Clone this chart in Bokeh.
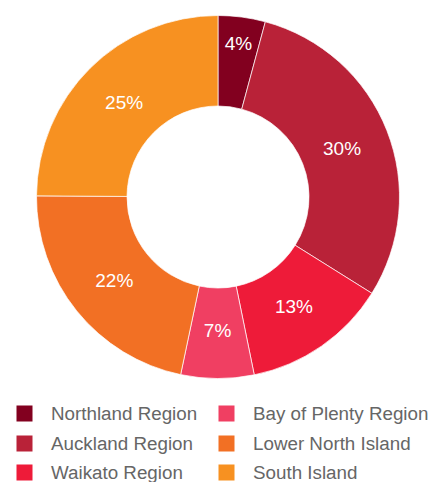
import math
from bokeh.plotting import figure
from bokeh.models import Range1d, ColumnDataSource
from bokeh.embed import file_html
from bokeh.resources import INLINE
from bokeh.core.properties import value

# ---- data ----
regions = ["Northland Region", "Auckland Region", "Waikato Region",
           "Bay of Plenty Region", "Lower North Island", "South Island"]
shares = [4.2, 29.7, 12.9, 6.5, 21.8, 24.9]
colors = ["#82001F", "#B92238", "#EE1B39", "#F03F62", "#F27024", "#F79121"]

# ---- layout (page pixel coordinates) ----
W, H = 429, 482
cx, cy = 217.5, H - 196.5
R_out, R_in = 181.5, 91
FONT = "Liberation Sans"

total = sum(shares)
starts, ends, mids = [], [], []
cum = 0.0
for s in shares:
    a0 = math.pi / 2 - cum / total * 2 * math.pi
    cum += s
    a1 = math.pi / 2 - cum / total * 2 * math.pi
    starts.append(a0)
    ends.append(a1)
    mids.append((a0 + a1) / 2)

labels = [f"{int(s / total * 100 + 0.5)}%" for s in shares]
r_mid = (R_out + R_in) / 2 - 3
lab_r = [r_mid + (22 if s / total < 0.05 else 0) for s in shares]
lx = [cx + r * math.cos(a) for r, a in zip(lab_r, mids)]
ly = [cy + r * math.sin(a) for r, a in zip(lab_r, mids)]

src = ColumnDataSource(dict(start=starts, end=ends, color=colors,
                            lx=lx, ly=ly, label=labels))

p = figure(width=W, height=H, x_range=Range1d(0, W), y_range=Range1d(0, H),
           output_backend="svg", toolbar_location=None, min_border=0,
           x_axis_type=None, y_axis_type=None)
p.grid.visible = False
p.outline_line_color = None
p.background_fill_color = "white"
p.border_fill_color = "white"

p.annular_wedge(x=cx, y=cy, inner_radius=R_in, outer_radius=R_out,
                start_angle="start", end_angle="end", direction="clock",
                fill_color="color", line_color="white", line_width=0.7,
                source=src)
p.text(x="lx", y="ly", text="label", source=src, text_color="white",
       text_font=value(FONT), text_font_size="19px",
       text_align="center", text_baseline="middle")

# ---- legend ----
col_sq_x = [24, 226]
col_tx_x = [50.5, 252.5]
row_py = [413, 443, 472]
sq_x, sq_y, tx_x, tx_y = [], [], [], []
for i, name in enumerate(regions):
    col, row = divmod(i, 3)
    yy = H - row_py[row]
    sq_x.append(col_sq_x[col]); sq_y.append(yy)
    tx_x.append(col_tx_x[col]); tx_y.append(yy)
lsrc = ColumnDataSource(dict(sx=sq_x, sy=sq_y, tx=tx_x, ty=tx_y,
                             color=colors, name=regions))
p.rect(x="sx", y="sy", width=16, height=16, fill_color="color",
       line_color=None, source=lsrc)
p.text(x="tx", y="ty", text="name", source=lsrc, text_color="#666666",
       text_font=value(FONT), text_font_size="18.8px",
       text_align="left", text_baseline="middle")

open("out.html", "w").write(file_html(p, INLINE))
